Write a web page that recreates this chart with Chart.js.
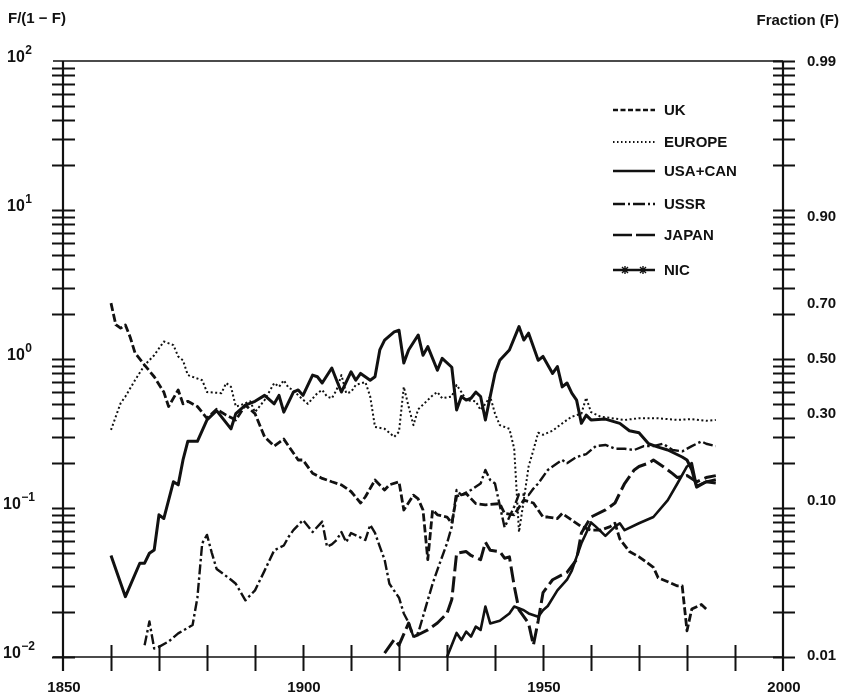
<!DOCTYPE html>
<html>
<head>
<meta charset="utf-8">
<script src="https://cdn.jsdelivr.net/npm/chart.js@4.4.1/dist/chart.umd.min.js"></script>
<style>
  html, body { margin: 0; padding: 0; background: #fff; }
  #wrap { width: 844px; height: 697px; }
</style>
</head>
<body>
<div id="wrap"><canvas id="c" width="844" height="697"></canvas></div>
<script>
// Market share ratio F/(1-F) by region, [year, value]
const ukSeries = [[1860,2.37],[1861,1.7],[1862,1.61],[1863,1.69],[1864,1.4],[1865,1.1],[1867,0.91],[1869,0.76],[1871,0.6],[1872,0.48],[1874,0.62],[1875,0.5],[1876,0.52],[1878,0.48],[1880,0.4],[1882,0.46],[1884,0.42],[1886,0.39],[1888,0.49],[1890,0.43],[1892,0.3],[1894,0.26],[1896,0.29],[1899,0.21],[1900,0.21],[1902,0.171],[1904,0.158],[1906,0.15],[1908,0.143],[1910,0.129],[1912,0.108],[1913,0.119],[1915,0.154],[1917,0.132],[1918,0.143],[1920,0.15],[1921,0.097],[1923,0.122],[1924,0.115],[1925,0.097],[1926,0.045],[1927,0.097],[1928,0.09],[1930,0.087],[1931,0.079],[1932,0.12],[1934,0.125],[1936,0.107],[1938,0.105],[1941,0.107],[1942,0.092],[1944,0.09],[1946,0.113],[1948,0.108],[1950,0.087],[1951,0.087],[1953,0.085],[1954,0.092],[1956,0.083],[1958,0.075],[1960,0.071],[1962,0.071],[1964,0.075],[1965,0.079],[1966,0.062],[1968,0.051],[1970,0.047],[1973,0.04],[1974,0.034],[1976,0.032],[1978,0.03],[1979,0.03],[1980,0.015],[1981,0.021],[1983,0.0225],[1984,0.021]];

const europeSeries = [[1860,0.334],[1862,0.505],[1863,0.56],[1865,0.72],[1867,0.91],[1869,1.06],[1871,1.31],[1873,1.24],[1874,1.04],[1875,0.98],[1876,0.78],[1879,0.72],[1880,0.6],[1883,0.59],[1884,0.69],[1885,0.65],[1886,0.48],[1887,0.49],[1889,0.52],[1890,0.44],[1892,0.53],[1894,0.69],[1895,0.65],[1896,0.72],[1897,0.64],[1898,0.62],[1899,0.57],[1901,0.5],[1903,0.59],[1904,0.62],[1905,0.56],[1906,0.545],[1907,0.62],[1908,0.78],[1909,0.59],[1910,0.6],[1911,0.67],[1913,0.7],[1914,0.56],[1915,0.35],[1917,0.34],[1918,0.32],[1919,0.3],[1920,0.325],[1921,0.65],[1922,0.48],[1923,0.36],[1924,0.46],[1926,0.53],[1927,0.57],[1928,0.6],[1929,0.545],[1931,0.56],[1932,0.67],[1933,0.6],[1934,0.53],[1936,0.52],[1937,0.455],[1938,0.5],[1939,0.56],[1940,0.43],[1941,0.36],[1943,0.34],[1944,0.25],[1945,0.069],[1946,0.113],[1947,0.19],[1948,0.245],[1949,0.32],[1950,0.31],[1952,0.33],[1953,0.35],[1955,0.39],[1956,0.41],[1958,0.43],[1959,0.55],[1960,0.44],[1962,0.41],[1967,0.39],[1970,0.4],[1974,0.4],[1978,0.39],[1981,0.395],[1984,0.385],[1986,0.39]];

const usaCanSeries = [[1860,0.048],[1863,0.0254],[1866,0.0426],[1867,0.0426],[1868,0.0497],[1869,0.0523],[1870,0.09],[1871,0.085],[1873,0.15],[1874,0.143],[1875,0.21],[1876,0.28],[1878,0.28],[1880,0.39],[1882,0.45],[1885,0.34],[1886,0.43],[1888,0.49],[1890,0.52],[1892,0.57],[1894,0.5],[1895,0.57],[1896,0.44],[1898,0.6],[1899,0.62],[1900,0.57],[1902,0.78],[1903,0.76],[1904,0.69],[1906,0.87],[1907,0.72],[1908,0.6],[1910,0.82],[1911,0.72],[1912,0.8],[1914,0.72],[1915,0.76],[1916,1.15],[1917,1.34],[1919,1.52],[1920,1.56],[1921,0.94],[1922,1.15],[1924,1.45],[1925,1.06],[1926,1.21],[1928,0.84],[1929,1.01],[1931,0.88],[1932,0.455],[1933,0.56],[1934,0.53],[1935,0.545],[1936,0.6],[1937,0.56],[1938,0.39],[1939,0.56],[1940,0.8],[1941,0.98],[1943,1.15],[1945,1.65],[1946,1.34],[1947,1.49],[1949,0.98],[1950,1.04],[1952,0.8],[1953,0.89],[1954,0.65],[1955,0.69],[1956,0.59],[1957,0.53],[1958,0.37],[1959,0.42],[1960,0.39],[1963,0.395],[1966,0.37],[1968,0.33],[1970,0.32],[1972,0.27],[1974,0.256],[1976,0.245],[1979,0.22],[1980,0.21],[1981,0.18],[1982,0.138],[1984,0.15],[1986,0.147]];

const ussrSeries = [[1867,0.012],[1868,0.0173],[1869,0.0114],[1870,0.0117],[1872,0.0127],[1874,0.0144],[1877,0.0164],[1878,0.025],[1879,0.058],[1880,0.066],[1881,0.05],[1882,0.039],[1885,0.033],[1886,0.031],[1888,0.024],[1890,0.028],[1892,0.038],[1894,0.052],[1896,0.056],[1897,0.064],[1898,0.071],[1900,0.083],[1902,0.069],[1904,0.081],[1905,0.055],[1906,0.057],[1907,0.061],[1908,0.069],[1909,0.059],[1910,0.068],[1913,0.061],[1914,0.077],[1915,0.068],[1916,0.055],[1917,0.045],[1918,0.031],[1920,0.025],[1921,0.0196],[1922,0.017],[1923,0.0137],[1924,0.0145],[1926,0.0241],[1927,0.031],[1928,0.0385],[1930,0.058],[1931,0.075],[1932,0.132],[1933,0.122],[1935,0.132],[1937,0.146],[1938,0.18],[1939,0.154],[1940,0.146],[1942,0.074],[1943,0.087],[1944,0.102],[1945,0.124],[1947,0.122],[1948,0.135],[1949,0.146],[1951,0.18],[1952,0.19],[1954,0.21],[1955,0.2],[1957,0.22],[1959,0.23],[1961,0.26],[1963,0.265],[1965,0.25],[1967,0.25],[1969,0.245],[1971,0.26],[1973,0.26],[1975,0.27],[1977,0.245],[1979,0.24],[1981,0.26],[1983,0.28],[1984,0.27],[1986,0.26]];

const japanSeries = [[1917,0.0106],[1919,0.0131],[1920,0.012],[1922,0.0169],[1923,0.0137],[1924,0.0141],[1926,0.0152],[1928,0.0169],[1930,0.0196],[1931,0.0243],[1932,0.0497],[1934,0.051],[1935,0.048],[1937,0.045],[1938,0.059],[1939,0.052],[1941,0.051],[1942,0.046],[1943,0.047],[1944,0.03],[1945,0.0207],[1947,0.0168],[1948,0.012],[1949,0.0175],[1950,0.027],[1952,0.033],[1955,0.037],[1957,0.045],[1958,0.068],[1960,0.087],[1963,0.097],[1965,0.108],[1966,0.126],[1967,0.146],[1969,0.18],[1970,0.19],[1972,0.2],[1973,0.21],[1975,0.19],[1977,0.17],[1978,0.16],[1980,0.165],[1982,0.15],[1984,0.16],[1986,0.165]];

const nicSeries = [[1930,0.01],[1932,0.0145],[1933,0.013],[1934,0.0148],[1935,0.0137],[1936,0.016],[1937,0.0152],[1938,0.0218],[1939,0.0168],[1941,0.0175],[1943,0.0196],[1944,0.0218],[1946,0.0206],[1947,0.0196],[1949,0.0186],[1950,0.0206],[1951,0.022],[1953,0.028],[1955,0.033],[1956,0.038],[1957,0.047],[1958,0.058],[1959,0.068],[1960,0.08],[1961,0.075],[1963,0.065],[1965,0.075],[1966,0.079],[1967,0.071],[1970,0.079],[1973,0.087],[1976,0.113],[1978,0.146],[1980,0.19],[1981,0.2],[1982,0.14],[1984,0.15],[1986,0.155]];

// Axis labels
const yearLabels = [1850, 1900, 1950, 2000];
const yearTickStep = 10;
const ratioExponents = [2, 1, 0, -1, -2];
const fractionLabels = ['0.99', '0.90', '0.70', '0.50', '0.30', '0.10', '0.01'];
const seriesNames = ['UK', 'EUROPE', 'USA+CAN', 'USSR', 'JAPAN', 'NIC'];

const INK = '#111';
const FONT = '"Liberation Sans", Arial, sans-serif';

function toPoints(series) { return series.map(p => ({ x: p[0], y: p[1] })); }

const styles = [
  { width: 2.8, dash: [8, 3], legendDash: [5, 2.5] },
  { width: 2, dash: [2, 2.5], legendDash: [1.5, 2.5] },
  { width: 3, dash: [], legendDash: [] },
  { width: 2.4, dash: [10, 3, 2.5, 3], legendDash: [12, 3, 2, 3] },
  { width: 3, dash: [16, 5], legendDash: [19, 4] },
  { width: 2.6, dash: [], legendDash: [], marks: true }
];

const allSeries = [ukSeries, europeSeries, usaCanSeries, ussrSeries, japanSeries, nicSeries];

const datasets = allSeries.map((s, i) => ({
  label: seriesNames[i],
  data: toPoints(s),
  borderColor: INK,
  borderWidth: styles[i].width,
  borderDash: styles[i].dash,
  borderCapStyle: 'butt',
  borderJoinStyle: 'round',
  pointRadius: 0,
  tension: 0,
  fill: false
}));

const axesPlugin = {
  id: 'paperAxes',
  afterDraw(chart) {
    const ctx = chart.ctx;
    const xs = chart.scales.x, ys = chart.scales.y;
    const x0 = xs.getPixelForValue(1850), x1 = xs.getPixelForValue(2000);
    const yTop = ys.getPixelForValue(100), yBot = ys.getPixelForValue(0.01);
    ctx.save();
    ctx.strokeStyle = INK;
    ctx.fillStyle = INK;
    ctx.setLineDash([]);
    ctx.lineCap = 'butt';

    // frame lines
    ctx.lineWidth = 1.6;
    ctx.beginPath();
    ctx.moveTo(x0 - 10, yTop); ctx.lineTo(x1, yTop);
    ctx.moveTo(x0 - 10, yBot); ctx.lineTo(x1, yBot);
    ctx.stroke();
    ctx.lineWidth = 2.2;
    ctx.beginPath();
    ctx.moveTo(x0, yTop); ctx.lineTo(x0, yBot + 14);
    ctx.moveTo(x1, yTop); ctx.lineTo(x1, yBot + 14);
    ctx.stroke();

    // log ticks on both vertical axes
    ctx.lineWidth = 1.8;
    ctx.beginPath();
    for (let e = -2; e <= 1; e++) {
      for (let m = 1; m <= 9; m++) {
        const y = Math.round(ys.getPixelForValue(m * Math.pow(10, e))) + 0.5;
        ctx.moveTo(x0 - 11, y); ctx.lineTo(x0 + 12, y);
        ctx.moveTo(x1 - 10, y); ctx.lineTo(x1 + 12, y);
      }
    }
    const yt = Math.round(yTop) + 0.5;
    ctx.moveTo(x1 - 10, yt); ctx.lineTo(x1 + 12, yt);
    ctx.stroke();

    // year ticks
    ctx.lineWidth = 2;
    ctx.beginPath();
    for (let yr = 1850 + yearTickStep; yr < 2000; yr += yearTickStep) {
      const x = Math.round(xs.getPixelForValue(yr)) + 0.5;
      ctx.moveTo(x, yBot - 12); ctx.lineTo(x, yBot + 14);
    }
    ctx.stroke();

    // year labels
    ctx.font = 'bold 15px ' + FONT;
    ctx.textAlign = 'center';
    ctx.textBaseline = 'alphabetic';
    yearLabels.forEach(yr => {
      ctx.fillText(String(yr), xs.getPixelForValue(yr) + 1, yBot + 35);
    });

    // left labels 10^k
    ctx.textAlign = 'left';
    ratioExponents.forEach(k => {
      const y = ys.getPixelForValue(Math.pow(10, k)) + 1;
      const left = k < 0 ? 3 : 7;
      ctx.font = 'bold 16px ' + FONT;
      ctx.fillText('10', left, y);
      const w = ctx.measureText('10').width;
      ctx.font = 'bold 12px ' + FONT;
      ctx.fillText(k < 0 ? '\u2212' + Math.abs(k) : String(k), left + w + 0.5, y - 8);
    });

    // right labels: fraction F placed at F/(1-F)
    ctx.font = 'bold 15px ' + FONT;
    ctx.textBaseline = 'middle';
    fractionLabels.forEach(t => {
      const f = parseFloat(t);
      ctx.fillText(t, 807, ys.getPixelForValue(f / (1 - f)));
    });

    // axis titles
    ctx.textBaseline = 'alphabetic';
    ctx.fillText('F/(1 \u2212 F)', 8, 23);
    ctx.textAlign = 'right';
    ctx.fillText('Fraction (F)', 839, 25);

    // legend
    const legendY = [110, 142, 171, 204, 235, 270];
    const lx0 = 613, lx1 = 655;
    ctx.textAlign = 'left';
    ctx.textBaseline = 'middle';
    chart.data.datasets.forEach((ds, i) => {
      const y = legendY[i];
      ctx.lineWidth = Math.min(ds.borderWidth, 2.6);
      ctx.setLineDash(styles[i].legendDash);
      ctx.beginPath();
      ctx.moveTo(lx0, y); ctx.lineTo(lx1, y);
      ctx.stroke();
      ctx.setLineDash([]);
      if (styles[i].marks) {
        ctx.lineWidth = 1.4;
        [625, 643].forEach(mx => {
          ctx.beginPath();
          ctx.moveTo(mx, y - 4); ctx.lineTo(mx, y + 4);
          ctx.moveTo(mx - 3, y - 3); ctx.lineTo(mx + 3, y + 3);
          ctx.moveTo(mx - 3, y + 3); ctx.lineTo(mx + 3, y - 3);
          ctx.stroke();
        });
      }
      ctx.font = 'bold 15px ' + FONT;
      ctx.fillText(ds.label, 664, y + 1);
    });
    ctx.restore();
  }
};

new Chart(document.getElementById('c'), {
  type: 'line',
  data: { datasets },
  options: {
    responsive: false,
    animation: false,
    devicePixelRatio: 1,
    layout: { padding: { left: 63, right: 61, top: 61, bottom: 40 } },
    scales: {
      x: { type: 'linear', min: 1850, max: 2000, display: false },
      y: { type: 'logarithmic', min: 0.01, max: 100, display: false }
    },
    plugins: { legend: { display: false }, tooltip: { enabled: false } }
  },
  plugins: [axesPlugin]
});
</script>
</body>
</html>
